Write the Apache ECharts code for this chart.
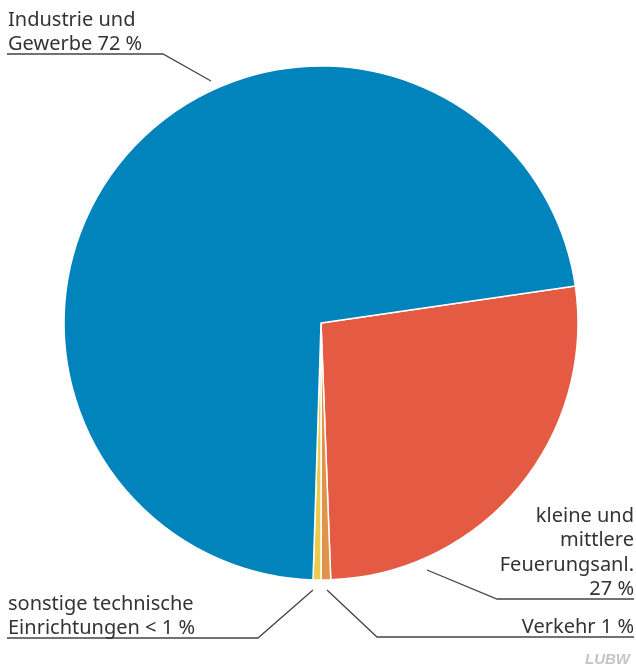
<!DOCTYPE html>
<html>
<head>
<meta charset="utf-8">
<script src="https://cdn.jsdelivr.net/npm/echarts@6/dist/echarts.min.js"></script>
<style>
  html, body { margin: 0; padding: 0; background: #fff; }
  #container { width: 636px; height: 671px; }
</style>
</head>
<body>
<div id="container"></div>
<script>
// Anteile (%), Reihenfolge im Uhrzeigersinn ab der Grenze blau/rot
var names = ['Feuerung', 'Verkehr', 'Sonstige', 'Industrie'];
var values = [26.7, 0.6, 0.5, 72.2];
var labels = [
  'kleine und\nmittlere\nFeuerungsanl.\n27 %',
  'Verkehr 1 %',
  'sonstige technische\nEinrichtungen < 1 %',
  'Industrie und\nGewerbe 72 %'
];
var colors = ['#e45a42', '#e0944b', '#ebcb4f', '#0084bb'];

// Beschriftungen: Textanker + Führungslinie
var labelPos = [
  { x: 634, y: 602, align: 'right', line: [[427, 570], [497, 599], [634, 599]] },
  { x: 634, y: 640, align: 'right', line: [[327, 590], [377, 637], [634, 637]] },
  { x: 8, y: 641, align: 'left', line: [[313, 590], [258, 638], [7, 638]] },
  { x: 8, y: 57, align: 'left', line: [[211, 81], [163, 54], [7, 54]] }
];

var element = document.getElementById('container');
var myChart = echarts.init(element);

var seriesData = names.map(function (n, i) {
  return { name: n, value: values[i], itemStyle: { color: colors[i] } };
});

var option = {
  animation: false,
  series: [{
    type: 'pie',
    center: [321, 323],
    radius: [0, 257],
    startAngle: 8.3,
    clockwise: true,
    data: seriesData,
    itemStyle: { borderColor: '#fff', borderWidth: 1.5 },
    label: {
      show: true,
      formatter: function (p) { return labels[p.dataIndex]; },
      fontFamily: 'Noto Sans',
      fontSize: 20,
      lineHeight: 24.5,
      color: '#333',
      overflow: 'none'
    },
    labelLine: {
      show: true,
      lineStyle: { color: '#444', width: 1.3 }
    },
    labelLayout: function (p) {
      var l = labelPos[p.dataIndex];
      return {
        x: l.x,
        y: l.y,
        align: l.align,
        verticalAlign: 'bottom',
        labelLinePoints: l.line
      };
    }
  }],
  graphic: [{
    type: 'text',
    right: 6,
    bottom: 4,
    style: {
      text: 'LUBW',
      fontFamily: 'Liberation Sans',
      fontStyle: 'italic',
      fontWeight: 'bold',
      fontSize: 15,
      fill: '#c4c4c4'
    }
  }]
};
option && myChart.setOption(option);
</script>
</body>
</html>
